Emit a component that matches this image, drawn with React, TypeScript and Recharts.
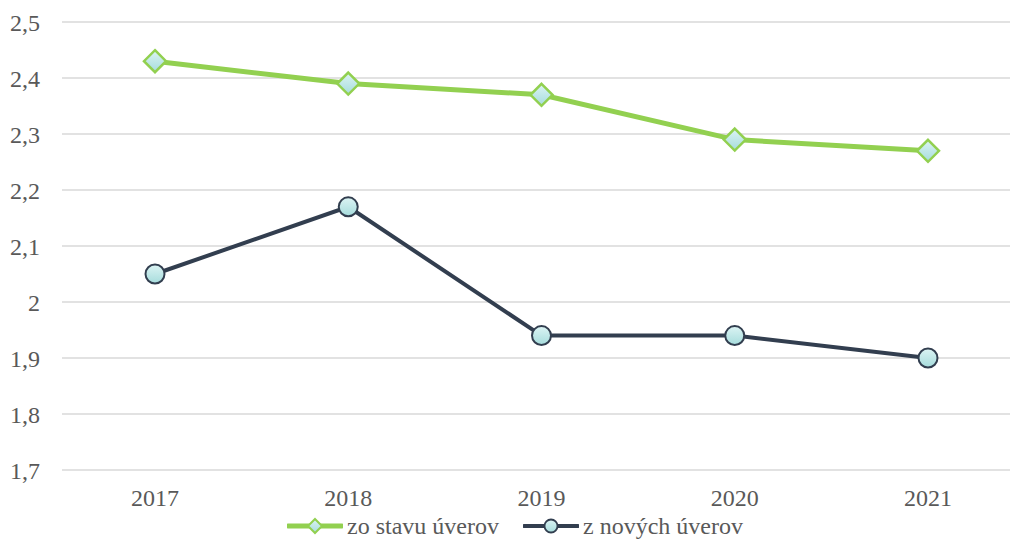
import { LineChart, Line, XAxis, YAxis, CartesianGrid } from 'recharts'

const years = ['2017', '2018', '2019', '2020', '2021']
const stockRates = [2.43, 2.39, 2.37, 2.29, 2.27]
const newRates = [2.05, 2.17, 1.94, 1.94, 1.9]
const yTicks = [1.7, 1.8, 1.9, 2, 2.1, 2.2, 2.3, 2.4, 2.5]

const seriesNames = ['zo stavu úverov', 'z nových úverov']

const GREEN = '#92d050'
const DARK = '#323e4f'
const FONT = '"Liberation Serif", "Times New Roman", serif'

const data = years.map((year, i) => ({
  year,
  stock: stockRates[i],
  fresh: newRates[i],
}))

const fmt = (v: number) => String(v).replace('.', ',')

const Diamond = (props: any) => {
  const { cx, cy, index } = props
  if (cx == null || cy == null) return null
  const r = 11
  return (
    <path
      key={`d-${index}`}
      d={`M${cx},${cy - r} L${cx + r},${cy} L${cx},${cy + r} L${cx - r},${cy} Z`}
      fill="url(#markerFill)"
      stroke={GREEN}
      strokeWidth={2.5}
    />
  )
}

const Circle = (props: any) => {
  const { cx, cy, index } = props
  if (cx == null || cy == null) return null
  return (
    <circle
      key={`c-${index}`}
      cx={cx}
      cy={cy}
      r={9.5}
      fill="url(#markerFill)"
      stroke={DARK}
      strokeWidth={2}
    />
  )
}

const LegendItem = ({ color, name, shape, left }: { color: string; name: string; shape: 'diamond' | 'circle'; left: number }) => (
  <div style={{ position: 'absolute', left, top: 514, display: 'flex', alignItems: 'center' }}>
    <svg width={56} height={24}>
      <defs>
        <linearGradient id={`lg-${shape}`} x1="0" y1="0" x2="0" y2="1">
          <stop offset="0%" stopColor="#dcf4f4" />
          <stop offset="100%" stopColor="#a6dcdc" />
        </linearGradient>
      </defs>
      <line x1={1} y1={12} x2={55} y2={12} stroke={color} strokeWidth={shape === 'diamond' ? 5 : 4} strokeLinecap="round" />
      {shape === 'diamond' ? (
        <path d="M28,5 L35,12 L28,19 L21,12 Z" fill={`url(#lg-${shape})`} stroke={color} strokeWidth={2} />
      ) : (
        <circle cx={28} cy={12} r={6.5} fill={`url(#lg-${shape})`} stroke={color} strokeWidth={1.8} />
      )}
    </svg>
    <span style={{ fontFamily: FONT, fontSize: 24, color: '#595959', marginLeft: 4, lineHeight: '24px' }}>{name}</span>
  </div>
)

export default function App() {
  return (
    <div style={{ position: 'absolute', left: 0, top: 0, width: 1010, height: 541, background: '#fff', overflow: 'hidden' }}>
      <LineChart width={1010} height={541} data={data} margin={{ top: 22, right: 0, bottom: 0, left: 0 }}>
        <defs>
          <linearGradient id="markerFill" x1="0" y1="0" x2="0" y2="1">
            <stop offset="0%" stopColor="#dcf4f4" />
            <stop offset="100%" stopColor="#a6dcdc" />
          </linearGradient>
        </defs>
        <CartesianGrid vertical={false} stroke="#d9d9d9" strokeWidth={1.5} />
        <XAxis
          dataKey="year"
          height={71}
          padding={{ left: 93, right: 82 }}
          axisLine={false}
          tickLine={false}
          tickSize={0}
          tickMargin={19}
          tick={{ fontFamily: FONT, fontSize: 24, fill: '#595959' }}
        />
        <YAxis
          width={62}
          domain={[1.7, 2.5]}
          ticks={yTicks}
          interval={0}
          axisLine={false}
          tickLine={false}
          tickSize={0}
          tickMargin={22}
          tickFormatter={fmt}
          tick={{ fontFamily: FONT, fontSize: 24, fill: '#595959' }}
        />
        <Line
          dataKey="stock"
          name={seriesNames[0]}
          stroke={GREEN}
          strokeWidth={5}
          dot={Diamond}
          activeDot={false}
          isAnimationActive={false}
        />
        <Line
          dataKey="fresh"
          name={seriesNames[1]}
          stroke={DARK}
          strokeWidth={4}
          dot={Circle}
          activeDot={false}
          isAnimationActive={false}
        />
      </LineChart>
      <LegendItem color={GREEN} name={seriesNames[0]} shape="diamond" left={287} />
      <LegendItem color={DARK} name={seriesNames[1]} shape="circle" left={523} />
    </div>
  )
}
